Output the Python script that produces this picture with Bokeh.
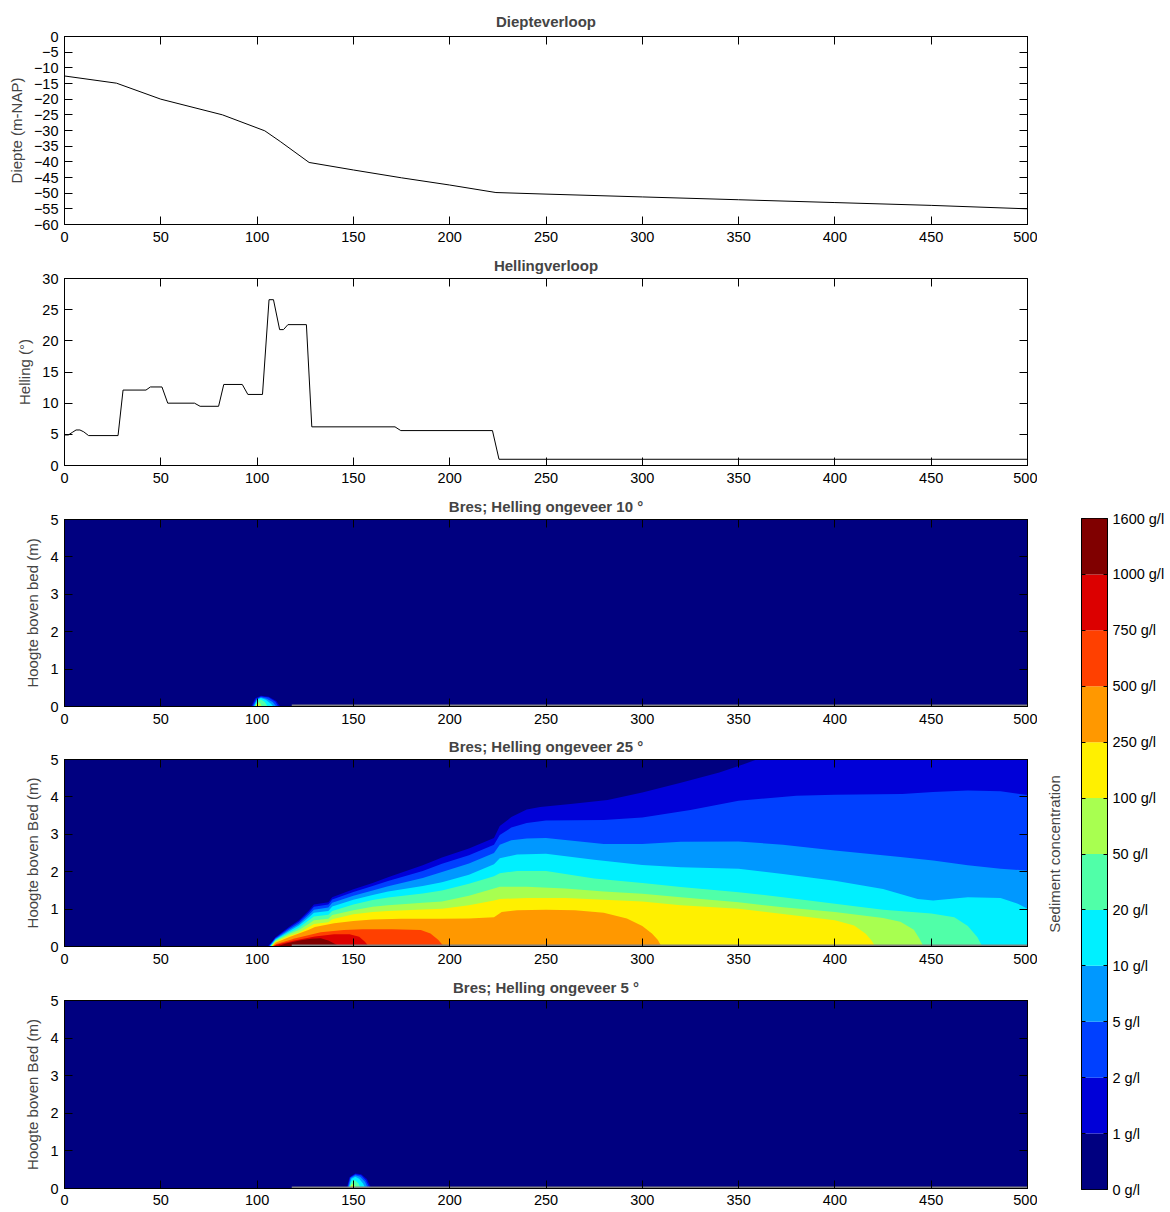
from bokeh.plotting import figure
from bokeh.models import Range1d, LinearAxis, FixedTicker, Spacer
from bokeh.layouts import column, row
from bokeh.embed import file_html
from bokeh.resources import INLINE

FONT = "Liberation Sans"

# ---------------- data ----------------
x_ticks = [0, 50, 100, 150, 200, 250, 300, 350, 400, 450, 500]

depth_x = [0, 27, 50, 82, 104, 112, 127, 150, 175, 200, 224, 250, 300, 350, 400, 450, 500]
depth_y = [-12.6, -14.9, -20, -25, -30.1, -33.5, -40.2, -42.6, -45.1, -47.4, -49.8, -50.3,
           -51.2, -52.1, -53.0, -53.9, -55.0]

slope_x = [0, 2, 4, 6, 8, 10, 12.5, 27.8, 30.4, 42.3, 44.6, 50.6, 53.6, 67.5, 70.4, 80, 82.7,
           92.3, 95.2, 102.8, 106.2, 108.5, 111.7, 113.7, 116, 125.6, 128.4, 171.6, 174.6,
           222.2, 225.6, 500]
slope_y = [4.9, 4.9, 5.3, 5.7, 5.7, 5.4, 4.8, 4.8, 12.1, 12.1, 12.6, 12.6, 10.0, 10.0, 9.5,
           9.5, 13.0, 13.0, 11.4, 11.4, 26.6, 26.6, 21.8, 21.8, 22.6, 22.6, 6.2, 6.2, 5.6,
           5.6, 1.0, 1.0]

levels = [0, 1, 2, 5, 10, 20, 50, 100, 250, 500, 750, 1000, 1600]
level_labels = ["0 g/l", "1 g/l", "2 g/l", "5 g/l", "10 g/l", "20 g/l", "50 g/l", "100 g/l",
                "250 g/l", "500 g/l", "750 g/l", "1000 g/l", "1600 g/l"]
band_colors = ["#000080", "#0000D8", "#0040FF", "#0098FF", "#00F0FF", "#50FFA8",
               "#A8FF50", "#FFF000", "#FF9800", "#FF4000", "#DC0000", "#800000"]

bed_x = [118, 500]
bed_y = [0, 0]

# Contour boundaries (height where concentration >= level), levels 1 .. 100 g/l
# Slope ~10 degrees
c10_x = [
    [97, 99, 102, 106, 110, 112],
    [97.5, 99.5, 102, 106, 109.5, 111],
    [98, 100, 102, 105, 108, 110],
    [98.5, 100, 102, 104.5, 107, 108.5],
    [99, 100.5, 102, 104, 105.5],
    [99.2, 100.2, 101.5, 102.5],
    [99.4, 100, 100.8, 101.3],
]
c10_h = [
    [0, 0.22, 0.29, 0.26, 0.15, 0],
    [0, 0.21, 0.27, 0.24, 0.13, 0],
    [0, 0.20, 0.25, 0.21, 0.12, 0],
    [0, 0.19, 0.23, 0.18, 0.08, 0],
    [0, 0.17, 0.19, 0.12, 0],
    [0, 0.12, 0.10, 0],
    [0, 0.08, 0.05, 0],
]

# Slope ~5 degrees
c5_x = [
    [146.5, 148, 151, 154, 157, 159.3],
    [146.8, 148.3, 151, 154, 156.5, 158.5],
    [147.2, 148.6, 151, 153.5, 156, 157.5],
    [147.5, 149, 151, 153, 155, 156.3],
    [147.8, 149.2, 150.8, 152.5, 153.8],
    [148, 149.2, 150.5, 151.5],
    [148.2, 148.8, 149.5, 150],
]
c5_h = [
    [0, 0.30, 0.40, 0.38, 0.25, 0],
    [0, 0.29, 0.38, 0.35, 0.22, 0],
    [0, 0.28, 0.35, 0.31, 0.18, 0],
    [0, 0.26, 0.31, 0.26, 0.13, 0],
    [0, 0.20, 0.22, 0.14, 0],
    [0, 0.12, 0.10, 0],
    [0, 0.07, 0.05, 0],
]

# Slope ~25 degrees, levels 1 .. 1000 g/l
c25_x = [
    [105.5, 109.5, 116.5, 121.7, 126.9, 129.5, 137, 139, 150, 160, 168, 186, 196, 210, 223,
     226, 232, 240, 247, 264, 282, 300, 320, 340, 353, 362, 500],
    [106, 109.5, 116.5, 121.7, 126.9, 129.5, 137, 139, 150, 160, 168, 186, 196, 210, 223,
     226, 232, 240, 250, 280, 300, 325, 350, 380, 400, 435, 451, 469, 486, 500],
    [106.3, 109.5, 116.5, 121.7, 126.9, 129.5, 137, 139, 150, 160, 168, 186, 196, 210, 223,
     226, 232, 240, 250, 265, 280, 300, 320, 350, 373, 400, 434, 451, 469, 486, 500],
    [106.6, 109.5, 116.5, 121.7, 126.9, 129.5, 137, 139, 150, 160, 168, 186, 196, 210, 223,
     226, 235, 250, 275, 300, 320, 350, 373, 400, 425, 443, 451, 469, 486, 495, 500],
    [106.9, 109.5, 116.5, 121.7, 126.9, 129.5, 137, 139, 150, 160, 168, 186, 196, 210, 223,
     226, 235, 250, 275, 300, 320, 350, 373, 400, 425, 450, 462, 469, 474, 476.5],
    [107.2, 109.5, 116.5, 121.7, 126.9, 129.5, 137, 139, 150, 160, 168, 186, 196, 210, 223,
     226, 240, 260, 280, 300, 320, 350, 373, 400, 425, 434, 441, 444, 446],
    [107.5, 109.5, 116.5, 121.7, 126.9, 129.5, 137, 139, 150, 160, 168, 186, 196, 210, 223,
     226, 240, 260, 280, 300, 320, 350, 373, 400, 410, 416, 419, 421],
    [107.8, 109.5, 116.5, 121.7, 126.9, 130, 140, 150, 160, 175, 195, 210, 223, 227, 235,
     250, 265, 280, 292, 300, 305, 308, 310],
    [108, 110, 120, 133, 145, 155, 170, 185, 190, 194, 197],
    [108.2, 110, 120, 130, 140, 148, 153, 156, 158],
    [110, 115, 122, 128, 133, 137, 140, 143],
]
c25_h = [
    [0, 0.25, 0.52, 0.70, 0.96, 1.12, 1.18, 1.32, 1.53, 1.70, 1.85, 2.17, 2.38, 2.62, 2.90,
     3.22, 3.46, 3.66, 3.73, 3.82, 3.92, 4.12, 4.38, 4.65, 4.88, 5.05, 5.05],
    [0, 0.23, 0.49, 0.66, 0.91, 1.06, 1.12, 1.26, 1.46, 1.62, 1.75, 2.02, 2.21, 2.44, 2.72,
     2.98, 3.18, 3.30, 3.37, 3.38, 3.45, 3.65, 3.90, 4.03, 4.06, 4.08, 4.13, 4.17, 4.15, 4.05],
    [0, 0.21, 0.45, 0.61, 0.85, 0.98, 1.04, 1.17, 1.36, 1.50, 1.61, 1.83, 1.99, 2.22, 2.50,
     2.72, 2.84, 2.89, 2.90, 2.82, 2.74, 2.74, 2.80, 2.81, 2.72, 2.57, 2.39, 2.30, 2.17, 2.08,
     2.03],
    [0, 0.19, 0.41, 0.56, 0.78, 0.90, 0.95, 1.07, 1.25, 1.38, 1.47, 1.62, 1.72, 1.92, 2.20,
     2.36, 2.46, 2.48, 2.32, 2.18, 2.12, 2.08, 1.94, 1.76, 1.54, 1.27, 1.23, 1.32, 1.30, 1.14,
     1.01],
    [0, 0.17, 0.37, 0.50, 0.70, 0.80, 0.85, 0.95, 1.12, 1.24, 1.31, 1.42, 1.50, 1.68, 1.88,
     1.96, 2.02, 2.02, 1.82, 1.70, 1.59, 1.45, 1.32, 1.14, 0.98, 0.88, 0.78, 0.55, 0.25, 0],
    [0, 0.15, 0.33, 0.44, 0.61, 0.70, 0.74, 0.84, 0.97, 1.06, 1.10, 1.17, 1.20, 1.36, 1.55,
     1.60, 1.60, 1.55, 1.47, 1.41, 1.32, 1.18, 1.05, 0.92, 0.76, 0.66, 0.45, 0.20, 0],
    [0, 0.12, 0.28, 0.37, 0.52, 0.60, 0.65, 0.73, 0.86, 0.92, 0.95, 0.99, 1.01, 1.10, 1.23,
     1.27, 1.30, 1.30, 1.25, 1.20, 1.10, 1.01, 0.87, 0.70, 0.56, 0.34, 0.16, 0],
    [0, 0.10, 0.25, 0.35, 0.45, 0.52, 0.62, 0.68, 0.72, 0.74, 0.74, 0.75, 0.78, 0.92, 0.97,
     0.98, 0.97, 0.90, 0.75, 0.55, 0.35, 0.18, 0],
    [0, 0.07, 0.22, 0.38, 0.44, 0.46, 0.46, 0.44, 0.35, 0.18, 0],
    [0, 0.05, 0.17, 0.27, 0.33, 0.33, 0.26, 0.13, 0],
    [0, 0.08, 0.16, 0.21, 0.22, 0.16, 0.08, 0],
]

# ---------------- layout ----------------
LEFT = 64
FRAME_W = 963
RIGHT = 10
PW = LEFT + FRAME_W + RIGHT
TICK_FS = "14.5px"
LABEL_FS = "15px"


def style_axis(ax, ticks, labels=True, standoff=6):
    ax.ticker = FixedTicker(ticks=ticks)
    ax.major_tick_in = 8
    ax.major_tick_out = 0
    ax.minor_tick_line_color = None
    ax.axis_line_color = "black"
    ax.major_tick_line_color = "black"
    ax.major_label_text_font = FONT
    if labels:
        ax.major_label_text_color = "black"
        ax.major_label_text_font_size = TICK_FS
        ax.major_label_standoff = standoff
    else:
        ax.major_label_text_color = None
        ax.major_label_text_font_size = "1px"
        ax.major_label_standoff = 0


def make_panel(title, ylabel, y0, y1, yticks, height, top, bottom, xstand=7, tstand=10):
    p = figure(width=PW, height=height, x_range=Range1d(0, 500), y_range=Range1d(y0, y1),
               output_backend="svg", toolbar_location=None,
               min_border_left=LEFT, min_border_right=RIGHT,
               min_border_top=top, min_border_bottom=bottom)
    p.xgrid.visible = False
    p.ygrid.visible = False
    p.outline_line_color = "black"
    p.outline_line_alpha = 1.0
    style_axis(p.xaxis[0], x_ticks, standoff=xstand)
    style_axis(p.yaxis[0], yticks)
    p.yaxis.axis_label = ylabel
    p.yaxis.axis_label_text_font = FONT
    p.yaxis.axis_label_text_font_style = "normal"
    p.yaxis.axis_label_text_font_size = LABEL_FS
    p.yaxis.axis_label_standoff = 6
    top_ax = LinearAxis()
    style_axis(top_ax, x_ticks, labels=False)
    p.add_layout(top_ax, "above")
    right_ax = LinearAxis()
    style_axis(right_ax, yticks, labels=False)
    p.add_layout(right_ax, "right")
    p.title.text = title
    p.title.align = "center"
    p.title.text_font = FONT
    p.title.text_font_style = "bold"
    p.title.text_font_size = LABEL_FS
    p.title.standoff = tstand
    return p


def add_contours(p, cx, ch):
    for k in range(len(cx)):
        p.varea(x=cx[k], y1=[0] * len(cx[k]), y2=ch[k], fill_color=band_colors[k + 1])
    p.line(bed_x, bed_y, line_color="#808080", line_width=4)


p1 = make_panel("Diepteverloop", "Diepte (m-NAP)", -60, 0, list(range(-60, 1, 5)),
                249, 36, 25, tstand=13)
p1.line(depth_x, depth_y, line_color="black", line_width=1)

p2 = make_panel("Hellingverloop", "Helling (°)", 0, 30, list(range(0, 31, 5)),
                241, 29, 25)
p2.line(slope_x, slope_y, line_color="black", line_width=1)

p3 = make_panel("Bres; Helling ongeveer 10 °", "Hoogte boven bed (m)", 0, 5,
                [0, 1, 2, 3, 4, 5], 240, 29, 24)
p3.background_fill_color = band_colors[0]
add_contours(p3, c10_x, c10_h)

p4 = make_panel("Bres; Helling ongeveer 25 °", "Hoogte boven Bed (m)", 0, 5,
                [0, 1, 2, 3, 4, 5], 241, 29, 25)
p4.background_fill_color = band_colors[0]
add_contours(p4, c25_x, c25_h)

p5 = make_panel("Bres; Helling ongeveer 5 °", "Hoogte boven Bed (m)", 0, 5,
                [0, 1, 2, 3, 4, 5], 240, 29, 23, xstand=6)
p5.background_fill_color = band_colors[0]
add_contours(p5, c5_x, c5_h)

# ---------------- colorbar ----------------
band_idx = list(range(len(levels) - 1))
band_top = [i + 1 for i in band_idx]
tick_idx = list(range(len(levels)))

CB_W = 130
cb = figure(width=CB_W, height=693, x_range=Range1d(0, 1), y_range=Range1d(0, len(levels) - 1),
            output_backend="svg", toolbar_location=None, y_axis_location="right",
            min_border_left=44, min_border_right=CB_W - 44 - 27,
            min_border_top=10, min_border_bottom=12)
cb.xgrid.visible = False
cb.ygrid.visible = False
cb.xaxis.visible = False
cb.outline_line_color = "black"
cb.quad(left=0, right=1, bottom=band_idx, top=band_top, fill_color=band_colors, line_color=None)
ry = cb.yaxis[0]
style_axis(ry, tick_idx)
ry.major_tick_in = 4
ry.major_label_overrides = {i: lab for i, lab in enumerate(level_labels)}
ry.major_label_standoff = 5
ly = LinearAxis()
style_axis(ly, tick_idx, labels=False)
ly.major_tick_in = 4
ly.axis_label = "Sediment concentration"
ly.axis_label_text_font = FONT
ly.axis_label_text_font_style = "normal"
ly.axis_label_text_font_size = LABEL_FS
ly.axis_label_standoff = 19
cb.add_layout(ly, "left")

layout = row(column(p1, p2, p3, p4, p5), column(Spacer(width=CB_W, height=508), cb))

open("out.html", "w").write(file_html(layout, INLINE))
